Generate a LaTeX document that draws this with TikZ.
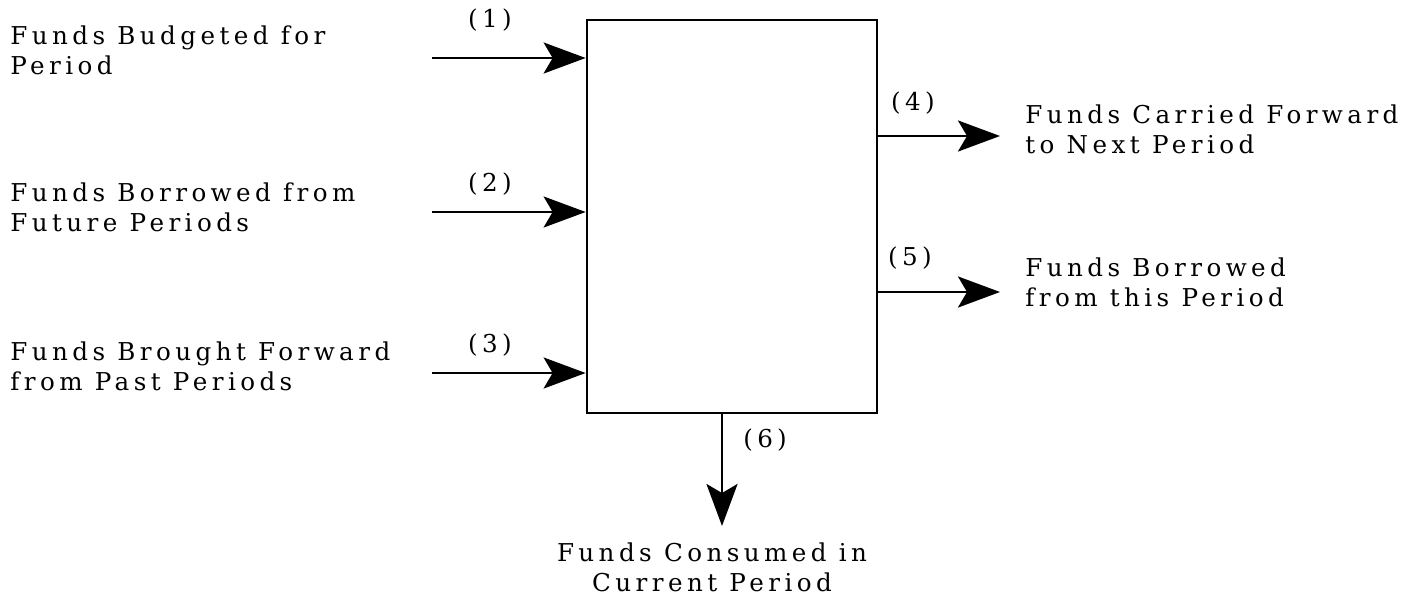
\documentclass[tikz,border=0pt]{standalone}
\usepackage{fontspec}
\setmainfont{DejaVu Serif}[LetterSpace=18]
\usetikzlibrary{positioning, arrows.meta, calc}

\begin{document}
\begin{tikzpicture}[x=0.02cm, y=-0.02cm,
    flow/.style={-{Stealth[length=0.84cm, width=0.62cm, inset=0.18cm]}, line width=1.6pt},
    lbl/.style={font=\fontsize{14}{17}\selectfont, align=left, inner sep=0pt},
    num/.style={font=\fontsize{14}{15}\selectfont, inner sep=0pt}]
        \useasboundingbox (0,0) rectangle (1412,605);

        % Period box
        \node[draw, line width=1.6pt, minimum width=5.8cm, minimum height=7.86cm, inner sep=0pt] (period) at (732,216.5) {};

        % Inflows
        \node[lbl, anchor=west] (budgeted) at (10,50) {Funds Budgeted for\\Period};
        \node[lbl, anchor=west] (borrowin) at (10,207) {Funds Borrowed from\\Future Periods};
        \node[lbl, anchor=west] (broughtfw) at (10,366) {Funds Brought Forward\\from Past Periods};

        \coordinate (in1) at (432,58);
        \coordinate (in2) at (432,212);
        \coordinate (in3) at (432,373);
        \draw[flow] (in1) -- (in1 -| period.west);
        \draw[flow] (in2) -- (in2 -| period.west);
        \draw[flow] (in3) -- (in3 -| period.west);

        \node[num] (n1) at (490,20) {(1)};
        \node[num] (n2) at (490,184) {(2)};
        \node[num] (n3) at (490,345) {(3)};

        % Outflows
        \coordinate (out4) at (1000,136);
        \coordinate (out5) at (1000,292);
        \coordinate (out6) at (722,526);
        \draw[flow] (out4 -| period.east) -- (out4);
        \draw[flow] (out5 -| period.east) -- (out5);
        \draw[flow] (out6 |- period.south) -- (out6);

        \node[num] (n4) at (913,103) {(4)};
        \node[num] (n5) at (910,258) {(5)};
        \node[num] (n6) at (765,440) {(6\,)};

        \node[lbl, anchor=west] (carried) at (1025,129) {Funds Carried Forward\\to Next Period};
        \node[lbl, anchor=west] (borrowout) at (1025,282) {Funds Borrowed\\from this Period};
        \node[lbl, align=center] (consumed) at (712,567) {Funds Consumed in\\Current Period};
\end{tikzpicture}
\end{document}
